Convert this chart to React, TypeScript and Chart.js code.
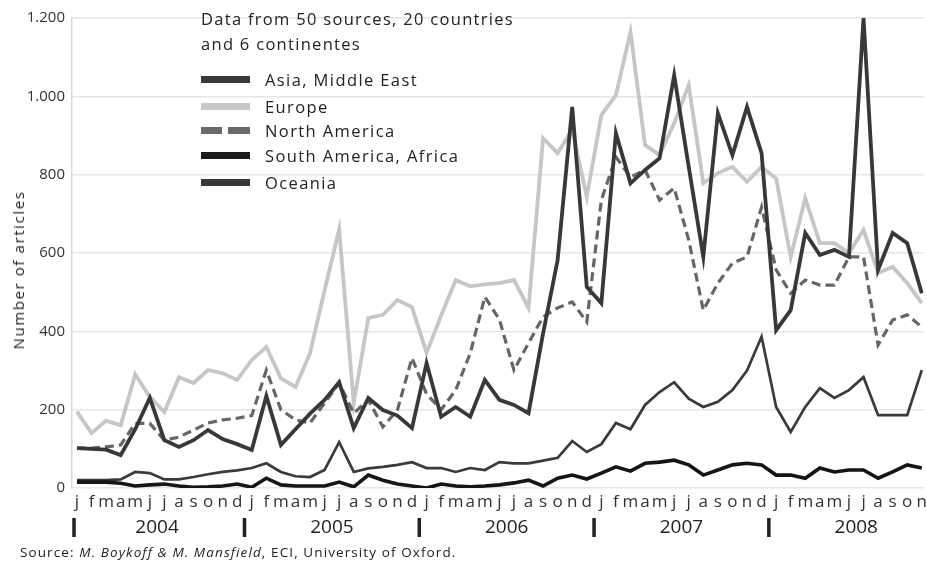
import React, { useEffect, useRef } from "react";
import { Chart, registerables } from "chart.js";

Chart.register(...registerables);

const FONT = "'Open Sans', 'DejaVu Sans', sans-serif";

// Month tick labels, Jan 2004 .. Nov 2008
const MONTHS = [
  "j", "f", "m", "a", "m", "j", "j", "a", "s", "o", "n", "d",
  "j", "f", "m", "a", "m", "j", "j", "a", "s", "o", "n", "d",
  "j", "f", "m", "a", "m", "j", "j", "a", "s", "o", "n", "d",
  "j", "f", "m", "a", "m", "j", "j", "a", "s", "o", "n", "d",
  "j", "f", "m", "a", "m", "j", "j", "a", "s", "o", "n",
];
const YEARS = ["2004", "2005", "2006", "2007", "2008"];
const YEAR_START = [0, 12, 24, 36, 48];
const Y_TICKS = [0, 200, 400, 600, 800, 1000, 1200];

const asiaMiddleEast = [
  20, 20, 20, 22, 41, 38, 22, 22, 28, 35, 41, 45,
  51, 63, 41, 30, 28, 46, 117, 41, 50, 54, 59, 66,
  51, 51, 41, 51, 46, 66, 63, 63, 70, 77, 120, 92,
  112, 166, 150, 212, 245, 270, 228, 207, 220, 250, 300, 386,
  207, 143, 207, 255, 230, 250, 283, 186, 186, 186, 301,
];
const europe = [
  195, 140, 172, 160, 290, 232, 194, 283, 268, 301, 293, 276,
  327, 360, 280, 258, 344, 505, 660, 217, 434, 442, 480, 462,
  345, 440, 531, 515, 520, 523, 531, 460, 893, 855, 914, 743,
  952, 1003, 1164, 876, 850, 931, 1029, 778, 804, 820, 782, 820,
  790, 590, 740, 625, 625, 600, 659, 549, 565, 523, 472,
];
const northAmerica = [
  102, 102, 105, 110, 165, 165, 122, 130, 148, 166, 174, 178,
  185, 301, 200, 174, 166, 217, 268, 191, 225, 156, 199, 332,
  240, 200, 250, 344, 488, 430, 301, 370, 437, 460, 475, 424,
  735, 845, 794, 812, 735, 766, 633, 454, 523, 574, 590, 717,
  557, 497, 531, 518, 518, 590, 590, 365, 429, 442, 411,
];
const southAmericaAfrica = [
  15, 15, 15, 12, 5, 8, 10, 5, 2, 3, 5, 10,
  2, 25, 8, 5, 5, 5, 15, 3, 33, 20, 10, 5,
  0, 10, 5, 3, 5, 8, 13, 20, 5, 25, 33, 23,
  38, 54, 43, 63, 66, 71, 59, 33, 46, 59, 63, 59,
  33, 33, 25, 51, 41, 46, 46, 25, 41, 59, 51,
];
const oceania = [
  102, 100, 98, 84, 150, 230, 122, 105, 122, 148, 125, 112,
  97, 235, 110, 150, 190, 225, 270, 153, 230, 199, 185, 153,
  319, 182, 207, 182, 276, 225, 212, 191, 395, 582, 973, 513,
  472, 906, 778, 812, 842, 1054, 820, 590, 957, 850, 973, 855,
  403, 454, 651, 595, 608, 590, 1200, 557, 651, 625, 497,
];

const toXY = (arr: number[]) => arr.map((v, i) => ({ x: i, y: v }));
const fmt = (v: number) => String(v).replace(/\B(?=(\d{3})+(?!\d))/g, ".");

const yearRowPlugin = {
  id: "yearRow",
  afterDraw(chart: any) {
    const ctx = chart.ctx;
    const xs = chart.scales.x;
    const base = chart.chartArea.bottom;
    ctx.save();
    ctx.fillStyle = "#222";
    ctx.font = `19px ${FONT}`;
    ctx.textAlign = "center";
    ctx.textBaseline = "middle";
    YEARS.forEach((yr, k) => {
      const s = YEAR_START[k];
      ctx.fillText(yr, xs.getPixelForValue(s + 5.5), base + 40);
      const bx = Math.max(xs.getPixelForValue(s - 0.5), xs.left + 2);
      ctx.fillRect(bx - 1.75, base + 30, 3.5, 19);
    });
    ctx.restore();
  },
};

const LEGEND = [
  { label: "Asia, Middle East", color: "#3a3a3a", dashed: false, y: 79 },
  { label: "Europe", color: "#c8c8c8", dashed: false, y: 106 },
  { label: "North America", color: "#6a6a6a", dashed: true, y: 130 },
  { label: "South America, Africa", color: "#1c1c1c", dashed: false, y: 155 },
  { label: "Oceania", color: "#383838", dashed: false, y: 182 },
];

export default function App() {
  const ref = useRef<HTMLCanvasElement | null>(null);

  useEffect(() => {
    document.body.style.margin = "0";
    const canvas = ref.current;
    if (!canvas) return;
    const chart = new Chart(canvas, {
      type: "line",
      data: {
        datasets: [
          { label: "South America, Africa", data: toXY(southAmericaAfrica), borderColor: "#151515", borderWidth: 3.6, order: 0 },
          { label: "Asia, Middle East", data: toXY(asiaMiddleEast), borderColor: "#3a3a3a", borderWidth: 2.7, order: 1 },
          { label: "Oceania", data: toXY(oceania), borderColor: "#383838", borderWidth: 3.8, order: 2 },
          { label: "North America", data: toXY(northAmerica), borderColor: "#666666", borderWidth: 3.2, borderDash: [9, 5], order: 3 },
          { label: "Europe", data: toXY(europe), borderColor: "#c6c6c6", borderWidth: 3.8, order: 4 },
        ],
      },
      options: {
        animation: false,
        responsive: false,
        maintainAspectRatio: false,
        layout: { padding: { top: 18, left: 0, right: 0, bottom: 0 } },
        elements: {
          point: { radius: 0, hoverRadius: 0 },
          line: { tension: 0, fill: false, borderJoinStyle: "miter", borderCapStyle: "butt" },
        },
        plugins: { legend: { display: false }, tooltip: { enabled: false } },
        scales: {
          x: {
            type: "linear",
            min: -0.342,
            max: 58.14,
            afterFit: (s: any) => { s.height = 57; },
            afterBuildTicks: (s: any) => { s.ticks = MONTHS.map((_, i) => ({ value: i })); },
            grid: { display: false },
            border: { display: false },
            ticks: {
              autoSkip: false,
              maxRotation: 0,
              minRotation: 0,
              padding: 0,
              color: "#333",
              font: { family: FONT, size: 17, lineHeight: 0.7 },
              callback: (v: any) => MONTHS[v as number] ?? "",
            },
          },
          y: {
            min: 0,
            max: 1200,
            afterFit: (s: any) => { s.width = 72; },
            afterBuildTicks: (s: any) => { s.ticks = Y_TICKS.map((v) => ({ value: v })); },
            grid: { color: "#e6e6e6", lineWidth: 1.5, drawTicks: false },
            border: { display: true, color: "#d9d9d9", width: 1.5 },
            ticks: {
              padding: 7,
              color: "#333",
              font: { family: FONT, size: 15 },
              callback: (v: any) => fmt(v as number),
            },
          },
        },
      },
      plugins: [yearRowPlugin],
    });
    return () => chart.destroy();
  }, []);

  return (
    <div
      style={{
        position: "absolute",
        left: 0,
        top: 0,
        width: 927,
        height: 565,
        overflow: "hidden",
        background: "#fff",
        fontFamily: FONT,
        color: "#222",
      }}
    >
      <canvas ref={ref} width={927} height={545} style={{ display: "block" }} />
      <div
        style={{
          position: "absolute",
          left: 18,
          top: 270,
          transform: "translate(-50%, -50%) rotate(-90deg)",
          fontSize: 15,
          letterSpacing: "1.6px",
          whiteSpace: "nowrap",
          lineHeight: "18px",
        }}
      >
        Number of articles
      </div>
      <div style={{ position: "absolute", left: 201, top: 6, fontSize: 16.5, letterSpacing: "1.3px", lineHeight: "25px", whiteSpace: "nowrap" }}>
        Data from 50 sources, 20 countries
        <br />
        and 6 continentes
      </div>
      {LEGEND.map((it) => (
        <div key={it.label} style={{ position: "absolute", left: 201, top: it.y - 11, height: 22, display: "flex", alignItems: "center", whiteSpace: "nowrap" }}>
          {it.dashed ? (
            <div style={{ width: 49, height: 7, display: "flex", justifyContent: "space-between" }}>
              <div style={{ width: 21, height: 7, background: it.color }} />
              <div style={{ width: 22, height: 7, background: it.color }} />
            </div>
          ) : (
            <div style={{ width: 49, height: 7, background: it.color }} />
          )}
          <span style={{ marginLeft: 15, fontSize: 16.5, letterSpacing: "1.4px" }}>{it.label}</span>
        </div>
      ))}
      <div style={{ position: "absolute", left: 20, top: 543, fontSize: 13.5, letterSpacing: "1.1px", whiteSpace: "nowrap", color: "#222" }}>
        Source: <i>M. Boykoff &amp; M. Mansfield</i>, ECI, University of Oxford.
      </div>
    </div>
  );
}
